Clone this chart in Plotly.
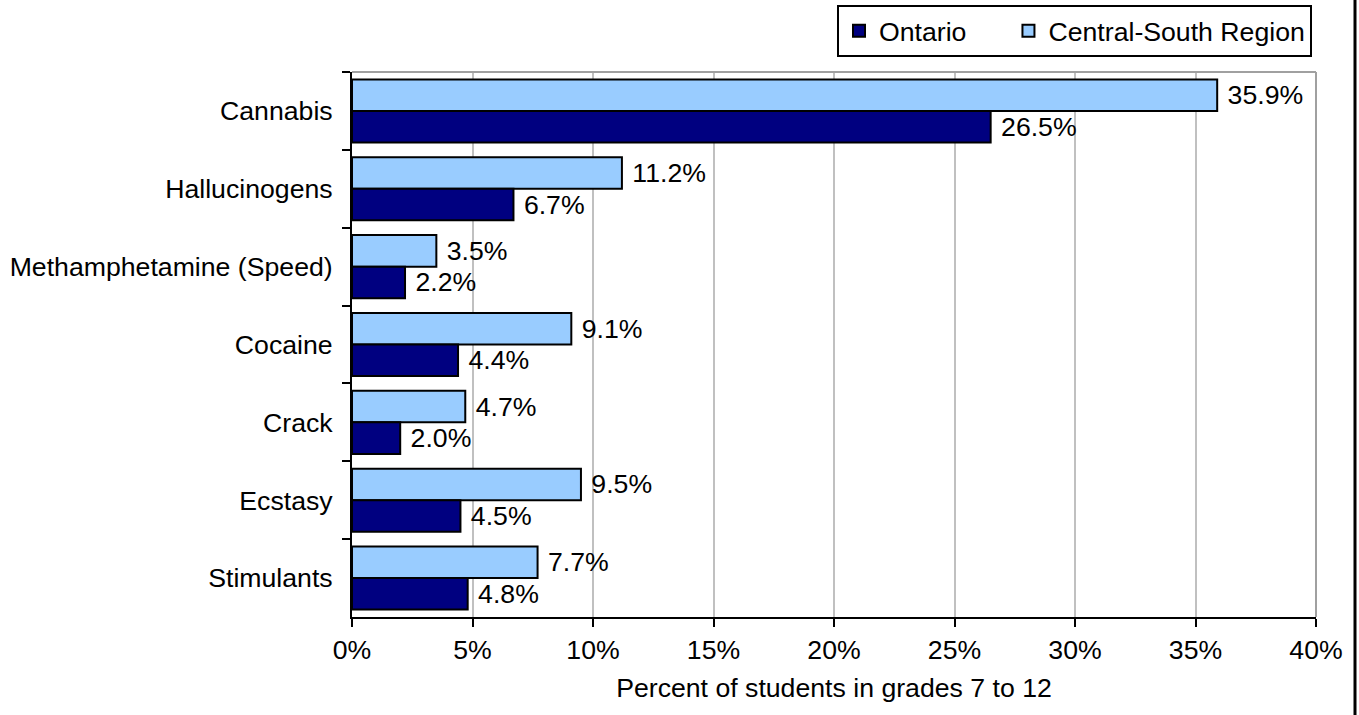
import plotly.graph_objects as go

# Substances, listed top to bottom
substances = ["Cannabis", "Hallucinogens", "Methamphetamine (Speed)", "Cocaine",
              "Crack", "Ecstasy", "Stimulants"]
central_south = [35.9, 11.2, 3.5, 9.1, 4.7, 9.5, 7.7]
ontario = [26.5, 6.7, 2.2, 4.4, 2.0, 4.5, 4.8]
x_ticks = [0, 5, 10, 15, 20, 25, 30, 35, 40]

FONT = "Liberation Sans, Arial, sans-serif"
FS = 26.67

fig = go.Figure()
fig.add_trace(go.Bar(
    y=substances, x=central_south, orientation="h", name="Central-South Region",
    marker=dict(color="#99CCFF", line=dict(color="black", width=2)),
    text=[f" {v:.1f}%" for v in central_south], textposition="outside",
    textfont=dict(color="black", size=FS, family=FONT), cliponaxis=False,
    legendrank=2,
))
fig.add_trace(go.Bar(
    y=substances, x=ontario, orientation="h",
    name="Ontario" + "\u00a0" * 5,
    marker=dict(color="#000080", line=dict(color="black", width=2)),
    text=[f" {v:.1f}%" for v in ontario], textposition="outside",
    textfont=dict(color="black", size=FS, family=FONT), cliponaxis=False,
    legendrank=1,
))

W, H = 1359, 715
L, R, T, B = 352, 43, 72, 98
ph = H - T - B
pw = W - L - R

fig.update_layout(
    width=W, height=H,
    margin=dict(l=L, r=R, t=T, b=B, autoexpand=False),
    paper_bgcolor="white", plot_bgcolor="white",
    barmode="group", bargap=0.19, bargroupgap=0,
    font=dict(family=FONT, size=FS, color="black"),
    showlegend=True,
    legend=dict(
        orientation="h", xref="container", yref="container",
        x=1312 / W, xanchor="right", y=1 - 5 / H, yanchor="top",
        bordercolor="black", borderwidth=2, bgcolor="white",
        font=dict(size=FS, family=FONT), itemwidth=30,
        traceorder="normal",
    ),
    xaxis=dict(
        range=[0, 40], tickvals=x_ticks, ticktext=[f"{t}%" for t in x_ticks],
        showgrid=True, gridcolor="#C0C0C0", gridwidth=2,
        showline=True, linecolor="black", linewidth=2,
        ticks="outside", ticklen=8, tickwidth=2, tickcolor="black",
        zeroline=False,
        title=dict(text="Percent of students in grades 7 to 12", standoff=14,
                   font=dict(size=FS, family=FONT)),
    ),
    yaxis=dict(
        autorange="reversed", showgrid=False,
        showline=True, linecolor="black", linewidth=2,
        ticks="outside", tickson="boundaries", ticklen=8, tickwidth=2,
        tickcolor="black", ticklabelstandoff=12,
    ),
    shapes=[
        # top and right frame of the plot area
        dict(type="line", xref="paper", yref="paper", x0=0, x1=1, y0=1, y1=1,
             line=dict(color="#A0A0A0", width=2)),
        dict(type="line", xref="paper", yref="paper", x0=1, x1=1, y0=0, y1=1,
             line=dict(color="#A0A0A0", width=2)),
        # right edge of the chart frame
        dict(type="line", xref="paper", yref="paper",
             x0=(1355 - L) / pw, x1=(1355 - L) / pw,
             y0=-B / ph - 0.02, y1=1 + T / ph + 0.02,
             line=dict(color="black", width=3)),
    ],
)

fig.write_html("out.html")
